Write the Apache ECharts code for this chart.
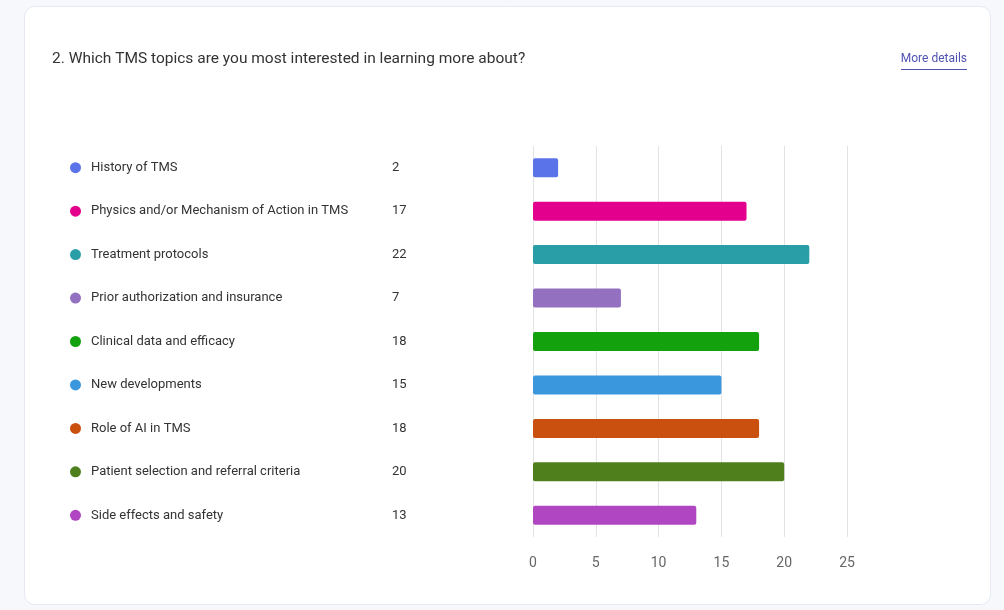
<!DOCTYPE html>
<html>
<head>
<meta charset="utf-8">
<script src="https://cdn.jsdelivr.net/npm/echarts@6/dist/echarts.min.js"></script>
<style>
html,body{margin:0;padding:0;background:#f6f8fc;}
#chart{width:1004px;height:610px;}
</style>
</head>
<body>
<div id="chart"></div>
<script>
const categories = [
  "History of TMS",
  "Physics and/or Mechanism of Action in TMS",
  "Treatment protocols",
  "Prior authorization and insurance",
  "Clinical data and efficacy",
  "New developments",
  "Role of AI in TMS",
  "Patient selection and referral criteria",
  "Side effects and safety"
];
const counts = [2, 17, 22, 7, 18, 15, 18, 20, 13];
const colors = ["#5b73e8", "#e3008c", "#2a9ea6", "#9470c0", "#13a10e", "#3a96dd", "#ca5010", "#4f7f1d", "#b146c2"];
const titleText = "2. Which TMS topics are you most interested in learning more about?";
const linkText = "More details";

const FONT = "Roboto";
const linkFont = '12px ' + FONT;
const ctx = document.createElement('canvas').getContext('2d');
ctx.font = linkFont;
const linkW = Math.round(ctx.measureText(linkText).width);

const chart = echarts.init(document.getElementById('chart'), null, {renderer: 'canvas'});

const rich = {
  name: {width: 301, padding: [0, 0, 0, 10], fontSize: 13, color: '#333', fontFamily: FONT},
  val: {fontSize: 13, color: '#333', fontFamily: FONT}
};
colors.forEach((c, i) => {
  rich['d' + i] = {width: 11, height: 11, borderRadius: 6, backgroundColor: c};
});

chart.setOption({
  animation: false,
  backgroundColor: '#f6f8fc',
  graphic: [
    {type: 'rect', left: 24, top: 6, z: -10, shape: {width: 966, height: 598, r: 10},
     style: {fill: '#ffffff', stroke: '#e6e8f4', lineWidth: 1}},
    {type: 'text', left: 52, top: 51, style: {text: titleText, font: '15.5px ' + FONT, fill: '#333'}},
    {type: 'text', right: 37, top: 53, style: {text: linkText, font: linkFont, fill: '#4f52b2'}},
    {type: 'rect', right: 37, top: 69, shape: {width: linkW, height: 1}, style: {fill: '#4f52b2'}}
  ],
  grid: {left: 533, top: 146, width: 314, height: 391, containLabel: false},
  xAxis: {
    type: 'value', min: 0, max: 25, interval: 5,
    axisLine: {show: false}, axisTick: {show: false},
    axisLabel: {color: '#666', fontSize: 14, fontFamily: FONT, margin: 19},
    splitLine: {lineStyle: {color: '#e3e3e3'}}
  },
  yAxis: {
    type: 'category', data: categories, inverse: true,
    axisLine: {show: false}, axisTick: {show: false},
    axisLabel: {
      align: 'left', margin: 463,
      formatter: (v, i) => '{d' + i + '|}{name|' + v + '}{val|' + counts[i] + '}',
      rich: rich
    }
  },
  series: [{
    type: 'bar', barWidth: 19,
    data: counts.map((v, i) => ({value: v, itemStyle: {color: colors[i]}})),
    itemStyle: {borderRadius: 2}
  }]
});
</script>
</body>
</html>
